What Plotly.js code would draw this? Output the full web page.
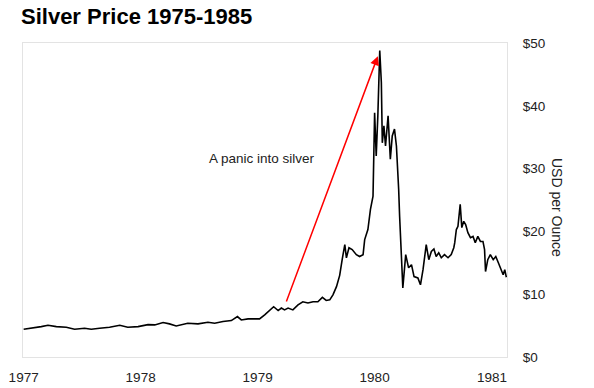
<!DOCTYPE html>
<html>
<head>
<meta charset="utf-8">
<script src="https://cdn.plot.ly/plotly-3.0.1.min.js"></script>
<style>html,body{margin:0;padding:0;background:#fff;}#chart{width:594px;height:388px;}</style>
</head>
<body>
<div id="chart"></div>
<script>
const dates = [
 '1977-01-01','1977-01-30','1977-02-25','1977-03-18','1977-04-13','1977-05-14','1977-06-09','1977-07-10','1977-07-31','1977-08-26',
 '1977-09-26','1977-10-28','1977-11-22','1977-12-24',
 '1978-01-24','1978-02-14','1978-03-12','1978-04-01','1978-04-22','1978-05-28','1978-06-29','1978-07-30','1978-08-20','1978-09-15',
 '1978-10-11','1978-10-30','1978-11-11','1978-12-02',
 '1979-01-07','1979-01-23','1979-02-08','1979-02-20','1979-03-06','1979-03-16','1979-03-26','1979-04-06','1979-04-21','1979-05-07',
 '1979-05-22','1979-06-07','1979-06-23','1979-07-08','1979-07-22','1979-08-03','1979-08-14','1979-08-24','1979-09-04','1979-09-14',
 '1979-09-22','1979-09-30','1979-10-05','1979-10-13','1979-10-23','1979-11-05','1979-11-15','1979-11-26','1979-12-01','1979-12-11',
 '1979-12-19','1979-12-27',
 '1980-01-01','1980-01-06','1980-01-11','1980-01-17','1980-01-22','1980-01-25','1980-01-30','1980-02-04','1980-02-12','1980-02-19',
 '1980-02-25','1980-03-03','1980-03-09','1980-03-14','1980-03-16','1980-03-19','1980-03-24','1980-03-29','1980-04-07','1980-04-16',
 '1980-04-25','1980-05-03','1980-05-15','1980-05-23','1980-05-31','1980-06-10','1980-06-18','1980-06-26','1980-07-04','1980-07-11',
 '1980-07-19','1980-07-27','1980-08-06','1980-08-17','1980-08-27','1980-09-04','1980-09-07','1980-09-12','1980-09-17','1980-09-24',
 '1980-09-29','1980-10-05','1980-10-11','1980-10-18','1980-10-26','1980-11-03','1980-11-10','1980-11-18','1980-11-26','1980-12-04',
 '1980-12-09','1980-12-12','1980-12-19','1980-12-27',
 '1981-01-05','1981-01-13','1981-01-21','1981-01-28','1981-02-05','1981-02-10','1981-02-15'
];
const prices = [
 4.42,4.58,4.84,5.06,4.84,4.74,4.42,4.58,4.42,4.58,
 4.74,5.06,4.74,4.84,
 5.16,5.11,5.48,5.27,4.95,5.38,5.27,5.54,5.38,5.64,
 5.8,6.44,5.9,6.07,
 6.07,6.7,7.5,8.0,7.4,7.8,7.5,7.8,7.5,8.3,
 8.8,8.6,8.8,8.8,9.5,9.0,9.1,9.9,11.2,13.0,
 15.6,17.9,15.8,17.4,17.1,16.3,16.0,16.3,18.7,20.3,
 23.5,25.6,
 38.9,32.0,38.4,48.8,43.7,34.1,36.8,33.6,38.4,31.5,
 35.2,36.3,33.6,29.3,26.7,22.4,17.6,11.0,16.3,14.2,
 14.7,12.8,12.6,11.5,13.9,17.9,15.5,16.8,17.2,16.0,
 16.6,15.8,16.3,15.8,16.3,17.4,18.2,20.3,20.8,24.3,
 20.6,21.6,21.1,19.8,19.0,19.2,18.2,19.2,18.4,18.4,
 17.1,13.6,15.5,16.3,
 15.5,16.0,15.0,14.2,13.1,13.9,12.7
];
const yTickVals = [0,10,20,30,40,50];
const yTickText = ['$0','$10','$20','$30','$40','$50'];
const xTickVals = ['1977-01-01','1978-01-01','1979-01-01','1980-01-01','1981-01-01'];
const xTickText = ['1977','1978','1979','1980','1981'];

const trace = {x: dates, y: prices, type:'scatter', mode:'lines', line:{color:'#000', width:1.6}, hoverinfo:'skip'};
const font = 'Liberation Sans, Arial, sans-serif';
const layout = {
  width:594, height:388,
  margin:{l:23, r:87, t:43, b:31},
  paper_bgcolor:'#fff', plot_bgcolor:'#fff',
  showlegend:false,
  title:{text:'<b>Silver Price 1975-1985</b>', font:{family:font, size:22, color:'#000'}, xref:'container', x:21/594, xanchor:'left', yref:'container', y:1-16/388, yanchor:'middle'},
  xaxis:{type:'date', range:['1976-12-30','1981-02-17'], tickvals:xTickVals, ticktext:xTickText, showgrid:false, zeroline:false,
    showline:true, mirror:true, linecolor:'#e3e3e3', linewidth:1, ticks:'', tickfont:{family:font, size:13.5, color:'#222'}, ticklabelstandoff:8},
  yaxis:{side:'right', range:[0,50], tickvals:yTickVals, ticktext:yTickText, showgrid:false, zeroline:false,
    showline:true, mirror:true, linecolor:'#e3e3e3', linewidth:1, ticks:'', tickfont:{family:font, size:13.5, color:'#222'}, ticklabelstandoff:12},
  annotations:[
    {xref:'paper', yref:'paper', x:(557-23)/484, y:(357-207)/314, text:'USD per Ounce', textangle:90, showarrow:false, font:{family:font, size:14, color:'#222'}, xanchor:'center', yanchor:'middle'},
    {xref:'x', yref:'y', x:'1979-01-16', y:31.6, text:'A panic into silver', showarrow:false, font:{family:font, size:13.5, color:'#222'}},
    {xref:'x', yref:'y', axref:'x', ayref:'y', x:'1980-01-11', y:47.9, ax:'1979-03-30', ay:8.6, text:'', showarrow:true, arrowhead:2, arrowsize:1.2, arrowwidth:1.5, arrowcolor:'#ff0000'}
  ]
};
Plotly.newPlot('chart',[trace],layout,{displayModeBar:false, staticPlot:true});
</script>
</body>
</html>
